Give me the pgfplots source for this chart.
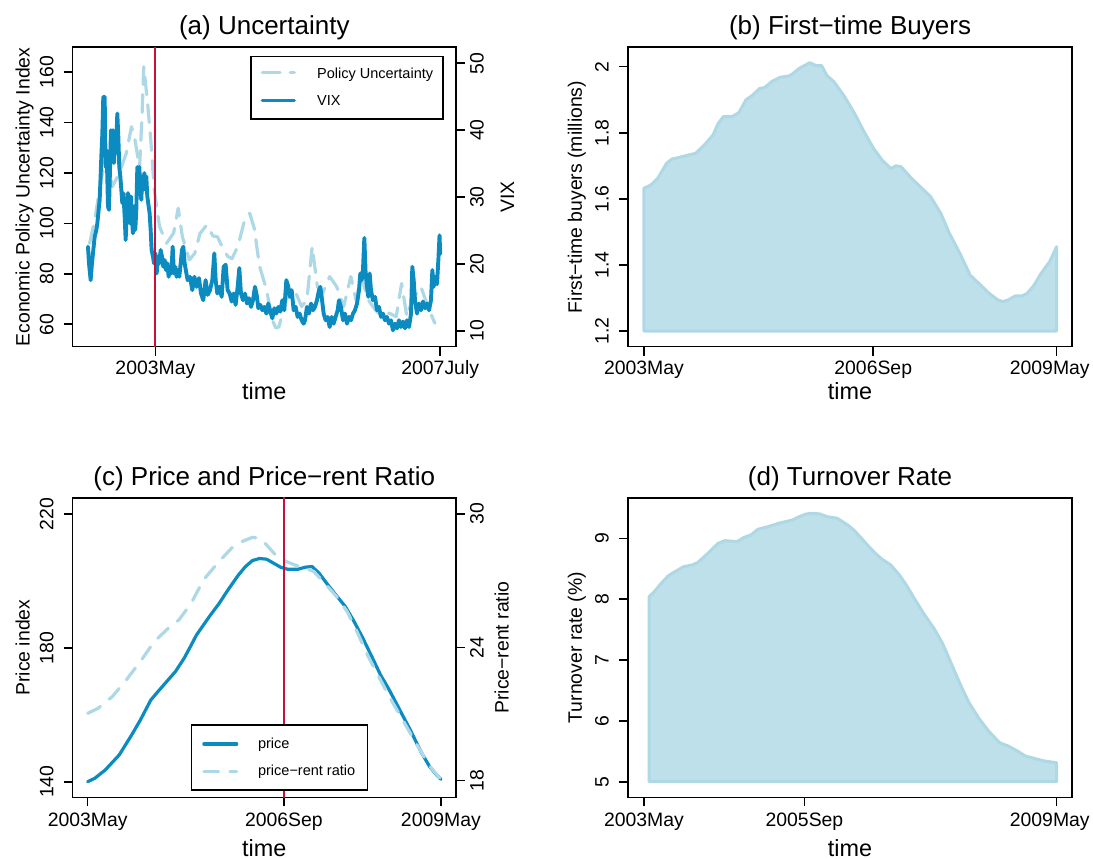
\documentclass[border=0pt]{standalone}
\usepackage{fontspec}
\setmainfont{Liberation Sans}
\usepackage{pgfplots}
\pgfplotsset{compat=1.18}

\definecolor{vixblue}{HTML}{0B8BBF}
\definecolor{lightblue}{HTML}{ADD8E6}
\definecolor{areafill}{HTML}{BEE0EA}
\definecolor{areaedge}{HTML}{AFD8E5}
\definecolor{marker}{HTML}{C8103C}

\newcommand{\tickfont}{\fontsize{9.7bp}{11bp}\selectfont}
\newcommand{\labfont}{\fontsize{9.7bp}{11bp}\selectfont}
\newcommand{\timefont}{\fontsize{11.7bp}{14bp}\selectfont}
\newcommand{\titlefont}{\fontsize{13bp}{15bp}\selectfont}
\newcommand{\legfont}{\fontsize{7.25bp}{8bp}\selectfont}
% last label of the right-hand panels sits a little left of its tick, as in the reference
\newcommand{\edgelabel}[1]{\kern-3.4bp #1\kern3.4bp}

\tikzset{
  solidline/.style={vixblue, line width=1.6bp, line join=round, line cap=round},
}

\pgfplotsset{
  rbox/.style={
    scale only axis, height=149.7bp,
    axis line style={line width=0.8bp},
    tick style={black, line width=0.8bp},
    major tick length=4.5bp, tick align=outside,
    minor tick num=0, scaled ticks=false,
    /pgf/number format/assume math mode=true,
    tick label style={font=\tickfont, inner sep=0pt},
    every axis title/.style={at={(axis description cs:0.5,1)}, anchor=base,
      yshift=6.15bp, font=\titlefont},
    every axis x label/.style={at={(axis description cs:0.5,0)}, anchor=base,
      yshift=-26.65bp, font=\timefont},
  },
  leftaxis/.style={rbox, xtick pos=left, ytick pos=left,
    xticklabel style={anchor=base, yshift=-9.65bp},
    yticklabel style={xshift=-5.15bp, rotate=90, anchor=base}},
  rightaxis/.style={rbox, axis x line=none, axis y line*=right, ytick pos=right,
    yticklabel style={xshift=9.35bp, rotate=90, anchor=base}},
  ylab/.style={every axis y label/.style={at={(axis description cs:#1,0.5)},
    rotate=90, anchor=base, font=\labfont}},
}

\begin{document}
\begin{tikzpicture}
\useasboundingbox (0,0) rectangle (546.5bp,429.5bp);

% ---------- (a) Uncertainty ----------
\begin{axis}[leftaxis, at={(36.3bp,256.15bp)}, anchor=south west, width=191.7bp,
  xmin=2002.122, xmax=2007.731, ymin=51.1, ymax=169.8,
  xtick={2003.333,2007.5}, xticklabels={2003May,2007July},
  ytick={60,80,...,160},
  title={(a) Uncertainty}, xlabel={time},
  ylabel={Economic Policy Uncertainty Index}, ylab=-0.1122]
\addplot[lightblue, line width=1.6bp, dash pattern=on 8.9bp off 5.1bp,
  line cap=round, line join=round] coordinates {
(2002.370,92.0) (2002.445,101.3) (2002.547,118.5) (2002.625,126.4) (2002.701,114.5)
(2002.805,119.8) (2002.907,127.8) (2002.983,138.3) (2003.035,133.0) (2003.102,122.0)
(2003.137,142.3) (2003.163,162.1) (2003.215,148.9) (2003.266,133.0) (2003.317,113.2)
(2003.394,98.7) (2003.497,92.1) (2003.599,96.1) (2003.667,106.0) (2003.728,94.7)
(2003.830,85.5) (2003.908,88.1) (2003.986,96.0) (2004.086,99.4) (2004.176,95.0)
(2004.242,94.7) (2004.322,90.0) (2004.395,86.8) (2004.454,86.0) (2004.541,91.0)
(2004.626,100.0) (2004.688,103.5) (2004.713,104.0) (2004.780,98.0) (2004.857,83.0)
(2004.960,73.6) (2005.038,62.0) (2005.096,58.5) (2005.141,59.0) (2005.242,69.6)
(2005.370,73.6) (2005.472,67.0) (2005.550,69.6) (2005.627,90.8) (2005.703,74.9)
(2005.781,72.3) (2005.883,78.9) (2005.985,74.9) (2006.088,67.0) (2006.192,78.9)
(2006.268,69.6) (2006.345,78.9) (2006.448,69.6) (2006.550,65.7) (2006.653,63.0)
(2006.755,64.4) (2006.857,63.0) (2006.935,76.2) (2007.012,63.0) (2007.089,69.6)
(2007.217,74.9) (2007.320,67.0) (2007.422,60.4)};
\end{axis}
\begin{axis}[rightaxis, at={(36.3bp,256.15bp)}, anchor=south west, width=191.7bp,
  xmin=2002.122, xmax=2007.731, ymin=7.654, ymax=52.39,
  ytick={10,20,...,50}, ylabel={VIX}, ylab=1.1513]
\addplot[solidline, line width=1.95bp] coordinates {
(2002.347,22.6) (2002.362,20.1) (2002.386,17.6) (2002.405,20.1) (2002.425,22.1)
(2002.445,24.1) (2002.469,25.1) (2002.484,26.1) (2002.503,28.1) (2002.518,29.6)
(2002.532,33.1) (2002.542,36.0) (2002.557,39.5) (2002.571,45.0) (2002.586,42.0)
(2002.591,45.0) (2002.605,34.5) (2002.620,37.0) (2002.640,28.6) (2002.654,28.1)
(2002.669,34.1) (2002.683,40.0) (2002.698,37.0) (2002.713,40.0) (2002.727,35.1)
(2002.742,38.5) (2002.757,36.6) (2002.776,42.5) (2002.791,39.0) (2002.805,34.5)
(2002.820,33.1) (2002.835,31.1) (2002.849,29.1) (2002.864,30.6) (2002.884,27.1)
(2002.898,23.6) (2002.913,27.1) (2002.932,30.6) (2002.947,29.1) (2002.961,26.1)
(2002.976,30.1) (2002.991,26.6) (2003.005,24.6) (2003.020,28.6) (2003.039,25.1)
(2003.054,28.1) (2003.069,34.5) (2003.083,33.1) (2003.098,34.5) (2003.113,31.1)
(2003.127,29.6) (2003.142,33.1) (2003.157,31.1) (2003.171,33.6) (2003.186,31.1)
(2003.200,33.1) (2003.215,30.1) (2003.235,28.6) (2003.249,27.6) (2003.264,25.1)
(2003.278,22.1) (2003.298,21.1) (2003.313,20.1) (2003.332,21.6) (2003.352,18.6)
(2003.371,21.1) (2003.391,20.1) (2003.410,22.1) (2003.430,21.1) (2003.449,19.6)
(2003.469,20.6) (2003.488,19.1) (2003.508,20.1) (2003.527,18.1) (2003.547,19.6)
(2003.566,18.6) (2003.586,22.6) (2003.605,18.6) (2003.625,19.6) (2003.644,18.1)
(2003.664,19.1) (2003.683,18.1) (2003.703,20.1) (2003.722,22.1) (2003.742,22.6)
(2003.761,20.1) (2003.805,17.6) (2003.839,18.1) (2003.873,16.1) (2003.903,18.1)
(2003.937,16.6) (2003.971,17.9) (2004.000,15.6) (2004.034,14.6) (2004.068,17.6)
(2004.098,15.4) (2004.132,16.1) (2004.166,17.6) (2004.195,21.6) (2004.215,17.6)
(2004.239,15.6) (2004.268,16.6) (2004.303,15.1) (2004.332,19.6) (2004.361,19.9)
(2004.390,16.1) (2004.420,15.6) (2004.449,14.4) (2004.478,15.6) (2004.507,13.9)
(2004.537,16.6) (2004.561,19.4) (2004.585,15.6) (2004.615,14.6) (2004.644,15.6)
(2004.673,14.1) (2004.702,14.9) (2004.732,13.6) (2004.761,14.6) (2004.790,16.6)
(2004.815,15.4) (2004.839,13.4) (2004.868,13.9) (2004.898,13.1) (2004.927,13.6)
(2004.956,12.6) (2004.985,14.1) (2005.015,12.9) (2005.044,11.9) (2005.073,13.4)
(2005.102,12.6) (2005.132,13.6) (2005.161,12.9) (2005.190,14.6) (2005.219,13.1)
(2005.249,17.6) (2005.278,16.6) (2005.302,15.1) (2005.327,16.1) (2005.356,13.1)
(2005.385,13.6) (2005.414,12.1) (2005.444,12.6) (2005.473,11.6) (2005.502,11.1)
(2005.522,11.6) (2005.551,13.6) (2005.580,12.6) (2005.610,14.1) (2005.639,13.1)
(2005.668,13.6) (2005.697,14.6) (2005.727,16.1) (2005.746,16.6) (2005.766,15.1)
(2005.795,12.6) (2005.824,11.6) (2005.853,12.1) (2005.883,10.6) (2005.912,12.1)
(2005.941,11.1) (2005.970,12.1) (2006.000,13.1) (2006.019,14.6) (2006.048,13.6)
(2006.078,11.6) (2006.107,12.6) (2006.136,11.1) (2006.166,12.1) (2006.195,11.6)
(2006.224,12.6) (2006.253,13.1) (2006.283,14.1) (2006.312,16.1) (2006.331,18.6)
(2006.351,17.6) (2006.370,19.1) (2006.390,23.9) (2006.409,18.6) (2006.429,16.6)
(2006.448,15.1) (2006.468,18.6) (2006.487,16.1) (2006.516,14.6) (2006.546,15.1)
(2006.575,13.1) (2006.604,13.6) (2006.634,12.1) (2006.663,12.6) (2006.692,11.6)
(2006.721,12.1) (2006.751,11.1) (2006.780,11.6) (2006.809,10.1) (2006.839,11.1)
(2006.868,10.4) (2006.897,11.6) (2006.926,10.6) (2006.956,11.4) (2006.985,10.4)
(2007.014,11.6) (2007.044,10.6) (2007.073,12.6) (2007.092,19.6) (2007.112,17.6)
(2007.131,14.6) (2007.161,12.6) (2007.190,14.1) (2007.219,13.1) (2007.248,14.4)
(2007.278,13.4) (2007.307,14.1) (2007.336,13.1) (2007.365,14.6) (2007.385,19.1)
(2007.404,16.6) (2007.424,18.1) (2007.453,17.0) (2007.475,21.0) (2007.490,24.3)
(2007.500,21.5)};
\addplot[marker, line width=0.9bp] coordinates {(2003.333,0) (2003.333,60)};
\end{axis}

% ---------- (b) First-time Buyers ----------
\begin{axis}[leftaxis, at={(313.95bp,256.15bp)}, anchor=south west, width=222.15bp,
  xmin=2003.10, xmax=2009.56, ymin=1.1525, ymax=2.0587,
  xtick={2003.333,2006.667,2009.333},
  xticklabels={2003May,2006Sep,\edgelabel{2009May}},
  ytick={1.2,1.4,1.6,1.8,2.0},
  title={(b) First−time Buyers}, xlabel={time},
  ylabel={First−time buyers (millions)}, ylab=-0.1035]
\addplot[fill=areafill, draw=areaedge, line width=1.5bp, line join=round] coordinates {
(2003.333,1.2) (2003.333,1.632) (2003.434,1.642) (2003.534,1.662) (2003.660,1.707)
(2003.735,1.720) (2003.835,1.725) (2004.086,1.738) (2004.212,1.763) (2004.337,1.793)
(2004.412,1.828) (2004.488,1.849) (2004.613,1.849) (2004.714,1.861) (2004.814,1.899)
(2004.914,1.914) (2005.015,1.934) (2005.090,1.937) (2005.191,1.955) (2005.316,1.968)
(2005.441,1.972) (2005.492,1.978) (2005.592,1.995) (2005.743,2.012) (2005.843,2.003)
(2005.918,2.003) (2005.994,1.973) (2006.094,1.955) (2006.245,1.911) (2006.395,1.859)
(2006.521,1.808) (2006.671,1.753) (2006.797,1.717) (2006.922,1.692) (2006.998,1.700)
(2007.073,1.697) (2007.224,1.662) (2007.349,1.637) (2007.500,1.607) (2007.650,1.556)
(2007.776,1.495) (2007.927,1.435) (2008.077,1.369) (2008.203,1.344) (2008.353,1.314)
(2008.479,1.294) (2008.554,1.289) (2008.629,1.294) (2008.730,1.306) (2008.830,1.306)
(2008.906,1.314) (2009.006,1.339) (2009.106,1.374) (2009.232,1.410) (2009.333,1.455)
(2009.333,1.2)} -- cycle;
\end{axis}

% ---------- (c) Price and Price-rent Ratio ----------
\begin{axis}[leftaxis, at={(36.3bp,30.85bp)}, anchor=south west, width=191.7bp,
  xmin=2003.077, xmax=2009.590, ymin=135.34, ymax=224.81,
  xtick={2003.333,2006.667,2009.333}, xticklabels={2003May,2006Sep,2009May},
  xticklabel style={yshift=-0.55bp},
  ytick={140,180,220},
  title={(c) Price and Price−rent Ratio}, xlabel={time},
  xlabel style={yshift=-2.7bp},
  ylabel={Price index}, ylab=-0.1122]
\addplot[solidline] coordinates {
(2003.333,140.0) (2003.452,141.0) (2003.631,143.5) (2003.869,148.0) (2004.078,153.9)
(2004.227,158.4) (2004.405,164.4) (2004.525,166.9) (2004.674,169.9) (2004.823,172.9)
(2004.972,176.9) (2005.091,180.8) (2005.180,183.8) (2005.299,186.8) (2005.418,189.8)
(2005.567,193.3) (2005.716,197.3) (2005.895,201.8) (2006.014,204.3) (2006.133,206.1)
(2006.252,206.7) (2006.372,206.5) (2006.491,205.3) (2006.610,204.1) (2006.729,203.5)
(2006.908,203.5) (2007.027,204.1) (2007.146,204.3) (2007.265,202.3) (2007.414,198.8)
(2007.564,195.5) (2007.712,192.3) (2007.861,187.8) (2008.010,182.8) (2008.159,177.4)
(2008.308,171.9) (2008.457,167.4) (2008.636,161.4) (2008.815,155.4) (2008.993,149.0)
(2009.142,144.5) (2009.262,142.0) (2009.333,140.7)};
\end{axis}
\begin{axis}[rightaxis, at={(36.3bp,30.85bp)}, anchor=south west, width=191.7bp,
  xmin=2003.077, xmax=2009.590, ymin=17.253, ymax=30.724,
  ytick={18,24,30}, ylabel={Price−rent ratio}, ylab=1.1372]
\addplot[lightblue, line width=1.6bp, dash pattern=on 7.3bp off 5.7bp,
  line cap=round, line join=round] coordinates {
(2003.333,21.03) (2003.512,21.26) (2003.750,21.78) (2003.988,22.53) (2004.227,23.36)
(2004.465,24.26) (2004.703,24.86) (2004.882,25.23) (2005.091,25.98) (2005.299,27.03)
(2005.537,27.78) (2005.776,28.46) (2005.955,28.76) (2006.133,28.95) (2006.252,28.91)
(2006.372,28.61) (2006.550,28.08) (2006.670,27.90) (2006.848,27.71) (2007.027,27.56)
(2007.176,27.41) (2007.384,26.81) (2007.564,26.28) (2007.742,25.61) (2007.921,24.63)
(2008.100,23.58) (2008.278,22.68) (2008.457,21.78) (2008.636,20.96) (2008.815,20.13)
(2008.993,19.31) (2009.172,18.56) (2009.333,18.06)};
\addplot[marker, line width=0.9bp] coordinates {(2006.667,10) (2006.667,40)};
\end{axis}

% ---------- (d) Turnover Rate ----------
\begin{axis}[leftaxis, at={(313.95bp,30.85bp)}, anchor=south west, width=222.15bp,
  xmin=2003.10, xmax=2009.56, ymin=4.744, ymax=9.664,
  xtick={2003.333,2005.667,2009.333},
  xticklabels={2003May,2005Sep,\edgelabel{2009May}},
  xticklabel style={yshift=-0.55bp},
  ytick={5,6,7,8,9},
  title={(d) Turnover Rate}, xlabel={time},
  xlabel style={yshift=-2.7bp},
  ylabel={Turnover rate (\%)}, ylab=-0.1035]
\addplot[fill=areafill, draw=areaedge, line width=1.5bp, line join=round] coordinates {
(2003.408,5) (2003.408,8.041) (2003.484,8.123) (2003.584,8.260) (2003.684,8.381)
(2003.785,8.452) (2003.910,8.534) (2004.036,8.562) (2004.111,8.600) (2004.212,8.699)
(2004.312,8.808) (2004.412,8.918) (2004.513,8.962) (2004.688,8.945) (2004.789,9.016)
(2004.889,9.055) (2004.990,9.148) (2005.140,9.192) (2005.291,9.247) (2005.492,9.301)
(2005.592,9.356) (2005.693,9.400) (2005.793,9.411) (2005.893,9.400) (2005.994,9.356)
(2006.144,9.329) (2006.295,9.219) (2006.395,9.126) (2006.496,9.000) (2006.596,8.874)
(2006.697,8.753) (2006.797,8.655) (2006.922,8.562) (2007.048,8.397) (2007.148,8.233)
(2007.249,8.041) (2007.399,7.767) (2007.550,7.521) (2007.675,7.274) (2007.801,6.945)
(2007.926,6.617) (2008.052,6.315) (2008.203,6.041) (2008.353,5.822) (2008.504,5.641)
(2008.629,5.587) (2008.755,5.510) (2008.880,5.422) (2009.006,5.384) (2009.157,5.340)
(2009.333,5.313) (2009.333,5)} -- cycle;
\end{axis}

% ---------- legends, in pixel units of the reference ----------
\begin{scope}[shift={(0bp,429.5bp)}, x=0.5bp, y=-0.5bp]
\draw[fill=white, line width=0.8bp] (251,56.5) rectangle (443,119.3);
\draw[lightblue, line width=1.6bp, dash pattern=on 8.9bp off 5.1bp, line cap=round]
  (262.3,72.7) -- (294.4,72.7);
\node[anchor=base west, inner sep=0pt, font=\legfont] at (316.7,78.3) {Policy Uncertainty};
\draw[solidline] (262.3,100.7) -- (294.4,100.7);
\node[anchor=base west, inner sep=0pt, font=\legfont] at (316.7,105.2) {VIX};

\draw[fill=white, line width=0.8bp] (191.7,725) rectangle (367.7,790);
\draw[solidline] (203.9,744) -- (236.7,744);
\node[anchor=base west, inner sep=0pt, font=\legfont] at (257.7,748.3) {price};
\draw[lightblue, line width=1.6bp, dash pattern=on 7.3bp off 5.7bp, line cap=round]
  (203.9,771.7) -- (236.7,771.7);
\node[anchor=base west, inner sep=0pt, font=\legfont] at (257.7,776) {price−rent ratio};
\end{scope}
\end{tikzpicture}
\end{document}
